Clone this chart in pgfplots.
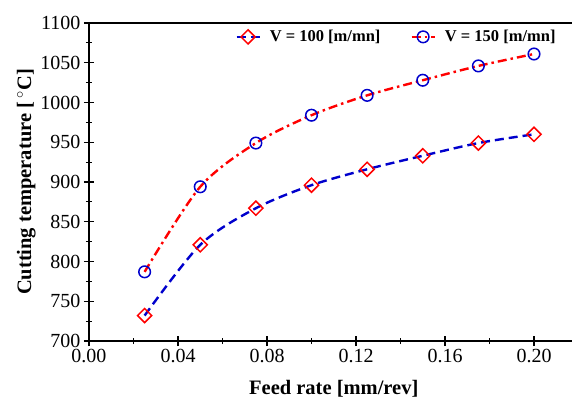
\documentclass[border=0pt]{standalone}
\usepackage{fontspec}
\setmainfont{Liberation Serif}
\usepackage{pgfplots}
\pgfplotsset{compat=1.18}
\definecolor{myblue}{RGB}{0,0,204}
\definecolor{myred}{RGB}{255,0,0}
\begin{document}
\begin{tikzpicture}
\begin{axis}[
  scale only axis,
  width=489.5pt, height=318pt,
  xmin=0, xmax=0.22, ymin=700, ymax=1100,
  xtick={0,0.04,...,0.201}, ytick={700,750,...,1100},
  minor x tick num=1, minor y tick num=1,
  xtick pos=bottom, ytick pos=left,
  tick align=center,
  major tick length=10pt, minor tick length=6pt,
  every tick/.style={black, line width=1.3pt},
  minor tick style={line width=1pt},
  axis line style={line width=1.5pt},
  xticklabel style={/pgf/number format/.cd, fixed, fixed zerofill, precision=2},
  /pgf/number format/assume math mode=true,
  ticklabel style={font=\fontsize{20}{24}\selectfont},
  yticklabel style={/pgf/number format/1000 sep={}},
  xlabel={\textbf{Feed rate [mm/rev]}},
  ylabel={\textbf{Cutting temperature [\,$^{\circ}$C]}},
  label style={font=\fontsize{20.5}{24}\selectfont},
  xlabel style={yshift=-10pt},
  ylabel style={yshift=-2pt},
  legend columns=2,
  legend image code/.code={\draw[mark repeat=2,mark phase=2] plot coordinates {(0pt,0pt) (11.5pt,0pt) (23pt,0pt)};},
  legend style={draw=none, fill=none, font=\fontsize{16.5}{20}\selectfont\bfseries,
    nodes={inner xsep=9pt},
    at={(rel axis cs:0.978,0.99)}, anchor=north east,
    /tikz/every even column/.append style={column sep=21pt}},
  legend cell align=left,
]
\addplot[myblue, line width=2.4pt, dash pattern=on 9pt off 5pt, smooth,
  mark=square, mark size=5pt,
  mark options={myred, solid, line width=1.5pt, fill=white, rotate=45}]
  coordinates {(0.025,732) (0.05,821) (0.075,867) (0.1,896) (0.125,916) (0.15,933) (0.175,949) (0.2,960)};
\addlegendentry{V = 100 [m/mn]}
\addplot[myred, line width=2.4pt, dash pattern=on 9pt off 4pt on 2.5pt off 4pt, smooth,
  mark=o, mark size=5.8pt,
  mark options={myblue, solid, line width=1.5pt, fill=none}]
  coordinates {(0.025,787) (0.05,894) (0.075,949) (0.1,984) (0.125,1009) (0.15,1028) (0.175,1046) (0.2,1061)};
\addlegendentry{V = 150 [m/mn]}
\end{axis}
\path (current axis.south west) ++(-89pt,-60pt) coordinate (A);
\path (current axis.north west) ++(483pt,23pt) coordinate (B);
\pgfresetboundingbox
\path (A) rectangle (B);
\end{tikzpicture}
\end{document}
